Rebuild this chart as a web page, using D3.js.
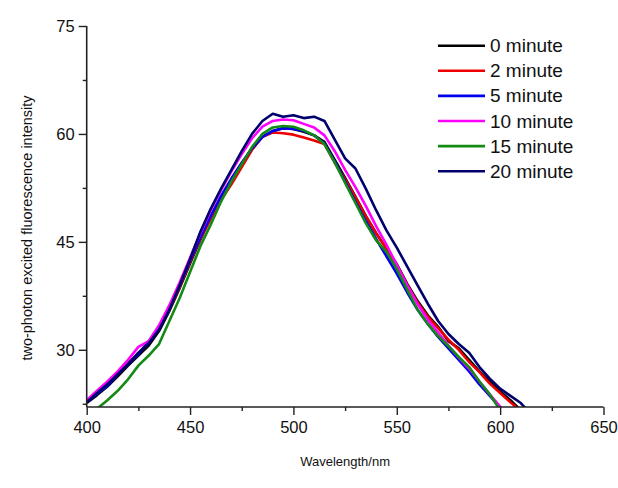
<!DOCTYPE html>
<html><head><meta charset="utf-8">
<script src="https://cdn.jsdelivr.net/npm/d3@7"></script>
<style>body{margin:0;background:#fff}svg{display:block}text{font-family:"Liberation Sans",Arial,sans-serif;fill:#111}</style>
</head><body>
<svg id="c" width="618" height="488"></svg>
<script>
const wavelengths = d3.range(400, 616, 5);
const seriesNames = ["0 minute","2 minute","5 minute","10 minute","15 minute","20 minute"];
const seriesColors = ["#000000","#ee0000","#0000ee","#ff00ff","#138a13","#00006e"];
const min0  = [22.6,23.7,24.9,26.3,27.8,29.2,30.6,32.6,35.4,38.6,42.0,45.3,48.4,51.2,53.6,55.9,58.0,59.6,60.4,60.8,60.7,60.3,59.8,58.9,56.4,53.9,51.3,48.6,46.2,44.1,41.9,39.2,36.8,34.8,33.2,31.2,30.2,28.6,27.0,25.6,24.2,23.0,21.6,20.5];
const min2  = [22.8,24.0,25.2,26.6,28.1,29.5,31.0,33.0,35.6,38.8,42.2,45.4,48.2,50.8,53.0,55.4,57.8,59.6,60.2,60.1,59.9,59.5,59.1,58.6,56.0,53.7,51.2,48.6,46.2,44.0,41.8,39.0,36.6,34.6,33.0,31.4,30.0,28.3,26.9,25.3,24.0,22.7,21.5,20.4];
const min5  = [22.7,23.9,25.0,26.6,28.0,29.4,31.2,33.2,35.8,39.0,42.4,45.6,48.6,51.4,53.8,56.0,58.0,59.6,60.4,60.8,60.7,60.4,59.8,58.7,56.2,53.4,50.6,47.9,45.4,43.0,40.6,38.0,35.6,33.6,31.8,30.2,28.6,27.0,25.2,23.6,22.0,20.8,19.6,18.5];
const min10 = [23.0,24.3,25.6,27.0,28.6,30.4,31.2,33.4,36.2,39.4,42.8,46.2,49.4,52.2,54.8,57.2,59.4,61.0,61.8,62.0,61.9,61.4,60.9,59.8,57.6,55.0,52.6,50.0,47.2,44.6,41.8,39.0,36.4,34.2,32.4,30.6,28.9,27.4,25.6,23.8,22.1,20.8,19.6,18.5];
const min15 = [20.8,21.8,23.0,24.3,25.9,27.8,29.2,30.8,34.0,37.2,40.8,44.4,47.4,50.6,53.4,55.8,58.2,60.0,60.9,61.1,61.0,60.5,59.8,58.6,56.0,53.2,50.4,47.6,45.2,43.6,41.2,38.4,35.6,33.6,31.9,30.5,29.0,27.6,25.6,23.8,21.6,20.2,18.8,17.5];
const min20 = [22.7,24.0,25.2,26.6,28.0,29.6,30.9,32.8,35.6,39.0,42.6,46.4,49.6,52.4,55.0,57.6,60.0,61.8,62.8,62.4,62.6,62.2,62.4,61.8,59.2,56.6,55.2,52.4,49.4,46.6,44.2,41.6,39.0,36.4,34.0,32.2,30.8,29.6,27.6,26.0,24.6,23.6,22.6,21.0];
const seriesValues = [min0,min2,min5,min10,min15,min20];
const xTickValues = [400,450,500,550,600,650];
const yTickValues = [30,45,60,75];

const svg = d3.select("#c");
const L = 86.7, R = 603.5, T = 26, B = 407;
const x = d3.scaleLinear().domain([400,650]).range([L,R]);
const y = d3.scaleLinear().domain([22.05,75]).range([B,T]);

svg.append("defs").append("clipPath").attr("id","clip")
  .append("rect").attr("x",L).attr("y",T).attr("width",R-L).attr("height",B-T);

const line = d3.line().x((d,i)=>x(wavelengths[i])).y(d=>y(d));
const g = svg.append("g").attr("clip-path","url(#clip)");
seriesValues.forEach((vals,k)=>{
  g.append("path").datum(vals).attr("d",line)
    .attr("fill","none").attr("stroke",seriesColors[k]).attr("stroke-width",2.6)
    .attr("stroke-linejoin","round");
});

// axes
const xAxis = svg.append("g").attr("transform",`translate(0,${B})`)
  .call(d3.axisBottom(x).tickValues(xTickValues).tickSize(8).tickPadding(6).tickFormat(d3.format("d")));
const xMinor = svg.append("g").attr("transform",`translate(0,${B})`)
  .call(d3.axisBottom(x).tickValues([425,475,525,575,625]).tickSize(4).tickFormat(""));
const yAxis = svg.append("g").attr("transform",`translate(${L},0)`)
  .call(d3.axisLeft(y).tickValues(yTickValues).tickSize(8).tickPadding(4).tickFormat(d3.format("d")));
const yMinor = svg.append("g").attr("transform",`translate(${L},0)`)
  .call(d3.axisLeft(y).tickValues([22.5,37.5,52.5,67.5]).tickSize(4).tickFormat(""));
[xAxis,xMinor,yAxis,yMinor].forEach(a=>{
  a.selectAll(".domain").attr("stroke","#222").attr("stroke-width",1.6);
  a.selectAll(".tick line").attr("stroke","#222").attr("stroke-width",1.4);
});
xMinor.select(".domain").remove(); yMinor.select(".domain").remove();
xAxis.select(".domain").attr("d",`M${L},0H${R}`);
yAxis.select(".domain").attr("d",`M0,${B}V${T}`);
xAxis.selectAll(".tick text").attr("font-size",16.5).attr("font-family","Liberation Sans, Arial, sans-serif").attr("fill","#111");
yAxis.selectAll(".tick text").attr("font-size",16.5).attr("font-family","Liberation Sans, Arial, sans-serif").attr("fill","#111").attr("dy","0.35em");

svg.append("text").attr("x",(L+R)/2).attr("y",466).attr("text-anchor","middle")
  .attr("font-size",13).text("Wavelength/nm");
svg.append("text").attr("transform","translate(32,228) rotate(-90)").attr("text-anchor","middle")
  .attr("font-size",14.5).text("two-photon excited fluorescence intensity");

// legend
const lg = svg.append("g");
seriesNames.forEach((n,k)=>{
  const cy = 45.7 + k*25.1;
  lg.append("line").attr("x1",438).attr("x2",485).attr("y1",cy).attr("y2",cy)
    .attr("stroke",seriesColors[k]).attr("stroke-width",2.6);
  lg.append("text").attr("x",490).attr("y",cy+6.5).attr("font-size",19).text(n);
});
</script>
</body></html>
